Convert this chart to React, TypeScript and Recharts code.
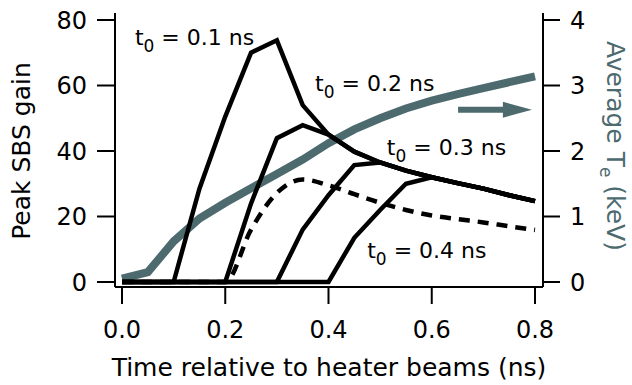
import React from "react";
import { LineChart, Line, XAxis, YAxis, ReferenceDot, ReferenceLine } from "recharts";

const times = [0, 0.05, 0.1, 0.15, 0.2, 0.25, 0.3, 0.35, 0.4, 0.45, 0.5, 0.55, 0.6, 0.65, 0.7, 0.75, 0.8];
const gainT01 = [0, 0, 0, 28.5, 50.5, 70, 73.8, 54, 45, 39.8, 36.5, 34, 32, 30.2, 28.5, 26.5, 24.7];
const gainT02 = [0, 0, 0, 0, 0, 24, 43.9, 47.9, 45, 39.8, 36.5, 34, 32, 30.2, 28.5, 26.5, 24.7];
const gainT03 = [0, 0, 0, 0, 0, 0, 0, 16, 26.5, 35.7, 36.5, 34, 32, 30.2, 28.5, 26.5, 24.7];
const gainT04 = [0, 0, 0, 0, 0, 0, 0, 0, 0, 13.5, 22, 30, 32, 30.2, 28.5, 26.5, 24.7];
const gainDashed = [0, 0, 0, 0, 0, 16, 27.2, 31.3, 29.5, 26.8, 24.2, 22, 20.3, 19.2, 18.2, 17, 15.9];
const avgTe = [0.05, 0.15, 0.62, 0.97, 1.21, 1.43, 1.65, 1.87, 2.12, 2.33, 2.5, 2.65, 2.77, 2.87, 2.96, 3.05, 3.14];

const xTicks = [0, 0.2, 0.4, 0.6, 0.8];
const leftTicks = [0, 20, 40, 60, 80];
const rightTicks = [0, 1, 2, 3, 4];

const annotations = [
  { x: 0.025, y: 72.4, value: "0.1" },
  { x: 0.374, y: 58.3, value: "0.2" },
  { x: 0.513, y: 38.8, value: "0.3" },
  { x: 0.475, y: 7.3, value: "0.4" },
];

const arrowSeg = [
  { x: 0.651, y: 2.63 },
  { x: 0.794, y: 2.63 },
];

const TEAL = "#4d6a6f";
const FONT = "DejaVu Sans";

const data = times.map((t, i) => ({
  t,
  g1: gainT01[i],
  g2: gainT02[i],
  g3: gainT03[i],
  g4: gainT04[i],
  gd: gainDashed[i],
  te: avgTe[i],
}));

const tickStyle = { fontSize: 24, fill: "#000", fontFamily: FONT };
const lineStyle = { stroke: "#000", strokeWidth: 2 };

const AnnotationShape = (value: string) => (p: any) => (
  <text x={p.cx} y={p.cy} fontSize={22} fontFamily={FONT} fill="#000" style={{ whiteSpace: "pre" }}>
    t
    <tspan dy={7} fontSize={17}>0</tspan>
    <tspan dy={-7}>{` = ${value} ns`}</tspan>
  </text>
);

const ArrowShape = (p: any) => {
  const { x1, y1, x2 } = p;
  const headLen = 29;
  const half = 8;
  return (
    <g>
      <line x1={x1} y1={y1} x2={x2 - headLen + 2} y2={y1} stroke={TEAL} strokeWidth={6} />
      <polygon points={`${x2 - headLen},${y1 - half} ${x2},${y1} ${x2 - headLen},${y1 + half}`} fill={TEAL} />
    </g>
  );
};

const XLabel = (p: any) => {
  const vb = p.viewBox;
  return (
    <text x={vb.x + vb.width / 2} y={vb.y + vb.height - 9} textAnchor="middle" fontSize={25} fontFamily={FONT} fill="#000">
      Time relative to heater beams (ns)
    </text>
  );
};

const LeftLabel = () => (
  <text x={30} y={151} transform="rotate(-90, 30, 151)" textAnchor="middle" fontSize={25} fontFamily={FONT} fill="#000">
    Peak SBS gain
  </text>
);

const RightLabel = () => (
  <text x={607} y={146} transform="rotate(90, 607, 146)" textAnchor="middle" fontSize={25} fontFamily={FONT} fill={TEAL} style={{ whiteSpace: "pre" }}>
    Average T
    <tspan dy={7} fontSize={17}>e</tspan>
    <tspan dy={-7}>{" (keV)"}</tspan>
  </text>
);

export default function App() {
  return (
    <div style={{ position: "absolute", left: 0, top: 0, background: "#fff" }}>
      <LineChart width={632} height={385} data={data} margin={{ top: 13, right: 0, bottom: 0, left: 0 }}>
        <XAxis
          dataKey="t"
          type="number"
          domain={[0, 0.8]}
          ticks={xTicks}
          tickFormatter={(v: number) => v.toFixed(1)}
          padding={{ left: 7, right: 8 }}
          height={98}
          tickSize={17}
          tickMargin={17}
          tick={tickStyle}
          axisLine={lineStyle}
          tickLine={lineStyle}
          label={<XLabel />}
        />
        <XAxis
          xAxisId="top"
          orientation="top"
          dataKey="t"
          type="number"
          domain={[0, 0.8]}
          height={0}
          tick={false}
          tickLine={false}
          axisLine={lineStyle}
        />
        <YAxis
          yAxisId="left"
          type="number"
          domain={[0, 80]}
          ticks={leftTicks}
          padding={{ top: 7, bottom: 5 }}
          width={115}
          tickSize={18}
          tickMargin={10}
          tick={tickStyle}
          axisLine={lineStyle}
          tickLine={lineStyle}
          label={<LeftLabel />}
        />
        <YAxis
          yAxisId="right"
          orientation="right"
          type="number"
          domain={[0, 4]}
          ticks={rightTicks}
          padding={{ top: 7, bottom: 5 }}
          width={89}
          tickSize={17}
          tickMargin={10}
          tick={tickStyle}
          axisLine={lineStyle}
          tickLine={lineStyle}
          label={<RightLabel />}
        />
        <Line yAxisId="right" dataKey="te" type="linear" stroke={TEAL} strokeWidth={8} dot={false} isAnimationActive={false} />
        <Line yAxisId="left" dataKey="gd" type="monotone" stroke="#000" strokeWidth={4.5} strokeDasharray="11 8" dot={false} isAnimationActive={false} />
        <Line yAxisId="left" dataKey="g4" type="linear" stroke="#000" strokeWidth={4.5} dot={false} isAnimationActive={false} />
        <Line yAxisId="left" dataKey="g3" type="linear" stroke="#000" strokeWidth={4.5} dot={false} isAnimationActive={false} />
        <Line yAxisId="left" dataKey="g2" type="linear" stroke="#000" strokeWidth={4.5} dot={false} isAnimationActive={false} />
        <Line yAxisId="left" dataKey="g1" type="linear" stroke="#000" strokeWidth={4.5} dot={false} isAnimationActive={false} />
        {annotations.map((a) => (
          <ReferenceDot key={a.value} yAxisId="left" x={a.x} y={a.y} r={0} shape={AnnotationShape(a.value)} />
        ))}
        <ReferenceLine yAxisId="right" segment={arrowSeg} shape={ArrowShape} />
      </LineChart>
    </div>
  );
}
